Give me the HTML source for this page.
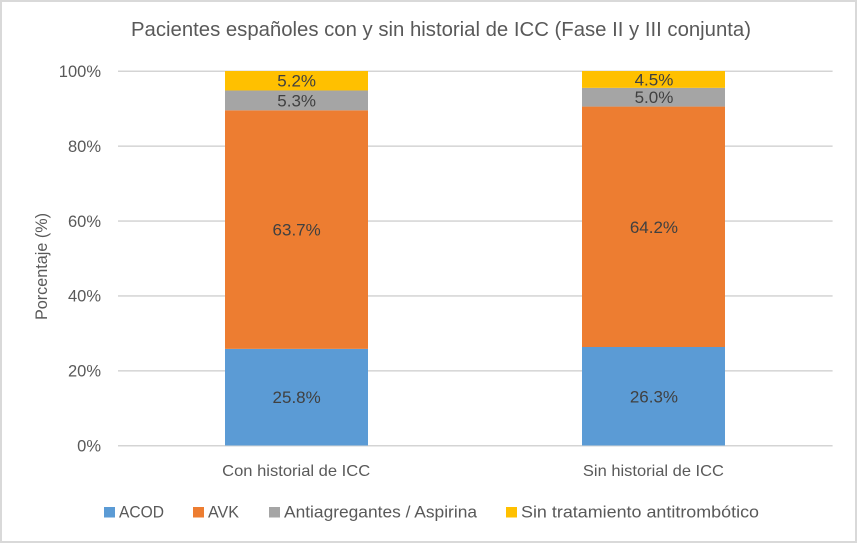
<!DOCTYPE html>
<html lang="es">
<head>
<meta charset="utf-8">
<title>Pacientes españoles con y sin historial de ICC</title>
<style>
html,body{margin:0;padding:0;background:#fff;}
svg{display:block;}
text{font-family:"Liberation Sans",sans-serif;fill:#595959;}
</style>
</head>
<body>
<svg id="chart" xmlns="http://www.w3.org/2000/svg" width="857" height="543" viewBox="0 0 857 543">
  <rect x="0" y="0" width="857" height="543" fill="#d9d9d9"/>
  <rect x="2" y="2" width="853" height="539" fill="#ffffff"/>
  <text x="441" y="36" text-anchor="middle" font-size="20" textLength="620" lengthAdjust="spacingAndGlyphs">Pacientes españoles con y sin historial de ICC (Fase II y III conjunta)</text>
  <text transform="translate(47,266.5) rotate(-90)" text-anchor="middle" font-size="17" textLength="107" lengthAdjust="spacingAndGlyphs">Porcentaje (%)</text>
  <g id="grid"></g>
  <g id="bars"></g>
  <g id="labels"></g>
  <g id="yticks"></g>
  <g id="xticks"></g>
  <g id="legend"></g>
</svg>
<script>
const categories = ['Con historial de ICC', 'Sin historial de ICC'];
const seriesNames = ['ACOD', 'AVK', 'Antiagregantes / Aspirina', 'Sin tratamiento antitrombótico'];
const acod = [25.8, 26.3];
const avk = [63.7, 64.2];
const antiagregantes = [5.3, 5.0];
const sinTratamiento = [5.2, 4.5];
const yTicks = [0, 20, 40, 60, 80, 100];

const NS = 'http://www.w3.org/2000/svg';
const colors = ['#5b9bd5', '#ed7d31', '#a5a5a5', '#ffc000'];
const seriesValues = [acod, avk, antiagregantes, sinTratamiento];
const plot = { left: 118, right: 832.6, top: 71, bottom: 445.5 };
const barWidth = 143;
const catLabelWidths = [148, 141];
const legendLayout = [
  { swatch: 104, text: 119, width: 45 },
  { swatch: 193, text: 208, width: 31 },
  { swatch: 269, text: 284, width: 193 },
  { swatch: 506, text: 521, width: 238 }
];

function yScale(v) {
  return plot.bottom - (v / 100) * (plot.bottom - plot.top);
}
function xCenter(i) {
  const band = (plot.right - plot.left) / categories.length;
  return plot.left + band * (i + 0.5);
}
function make(tag, attrs, parent, content) {
  const el = document.createElementNS(NS, tag);
  for (const k in attrs) el.setAttribute(k, attrs[k]);
  if (content !== undefined) el.textContent = content;
  parent.appendChild(el);
  return el;
}

const gGrid = document.getElementById('grid');
const gBars = document.getElementById('bars');
const gLabels = document.getElementById('labels');
const gY = document.getElementById('yticks');
const gX = document.getElementById('xticks');
const gLegend = document.getElementById('legend');

yTicks.forEach(function (t) {
  const y = yScale(t);
  const line = make('rect', { x: plot.left, y: y - 0.5, width: plot.right - plot.left, height: 1.5, fill: '#d4d4d4' }, gGrid);
  
  
  const label = make('text', { x: 101, y: y + 6, 'text-anchor': 'end', 'font-size': 16.5 }, gY, t + '%');
  
  
});

categories.forEach(function (cat, i) {
  let acc = 0;
  const cx = xCenter(i);
  seriesValues.forEach(function (vals, s) {
    const v = vals[i];
    const y0 = yScale(acc);
    const y1 = yScale(acc + v);
    const bar = make('rect', { x: Math.round(cx - barWidth / 2), y: y1, width: barWidth, height: y0 - y1, fill: colors[s] }, gBars);
    
    
    const lab = make('text', { x: cx, y: (y0 + y1) / 2 + 6, 'text-anchor': 'middle', 'font-size': 17, style: 'fill:#404040' }, gLabels, v.toFixed(1) + '%');
    
    
    acc += v;
  });
  const cl = make('text', { x: cx - 0.5, y: 476, 'text-anchor': 'middle', 'font-size': 16, textLength: catLabelWidths[i], lengthAdjust: 'spacingAndGlyphs' }, gX, cat);
  
  
});

seriesNames.forEach(function (name, s) {
  const l = legendLayout[s];
  const sw = make('rect', { x: l.swatch, y: 507, width: 11, height: 10.5, fill: colors[s] }, gLegend);
  
  
  const tx = make('text', { x: l.text, y: 517.5, 'font-size': 16.5, textLength: l.width, lengthAdjust: 'spacingAndGlyphs' }, gLegend, name);
  
  
});
</script>
</body>
</html>
